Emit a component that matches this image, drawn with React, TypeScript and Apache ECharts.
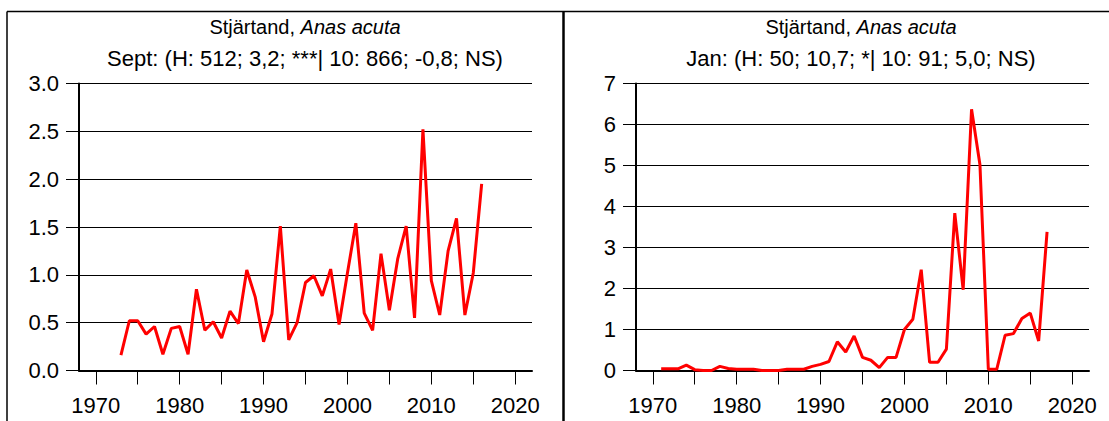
import React, { useEffect, useRef } from "react";
import * as echarts from "echarts";

const SEPT_START_YEAR = 1973;
const septValues = [
  0.16, 0.52, 0.52, 0.38, 0.46, 0.17, 0.44, 0.46, 0.17, 0.85,
  0.42, 0.51, 0.34, 0.62, 0.49, 1.05, 0.77, 0.30, 0.59, 1.51,
  0.32, 0.50, 0.92, 0.99, 0.78, 1.06, 0.48, 1.02, 1.54, 0.60,
  0.42, 1.22, 0.63, 1.17, 1.51, 0.55, 2.52, 0.94, 0.58, 1.25,
  1.59, 0.58, 1.02, 1.95,
];

const JAN_START_YEAR = 1971;
const janValues = [
  0.04, 0.04, 0.04, 0.13, 0.02, 0.0, 0.0, 0.1, 0.05, 0.03,
  0.03, 0.03, 0.0, 0.0, 0.0, 0.03, 0.03, 0.03, 0.1, 0.15,
  0.22, 0.7, 0.45, 0.84, 0.32, 0.25, 0.07, 0.32, 0.32, 1.0,
  1.25, 2.46, 0.2, 0.2, 0.52, 3.84, 1.97, 6.37, 5.02, 0.03,
  0.03, 0.86, 0.9, 1.27, 1.4, 0.72, 3.38,
];

const xTickValues = [1970, 1975, 1980, 1985, 1990, 1995, 2000, 2005, 2010, 2015, 2020];
const xLabelValues = [1970, 1980, 1990, 2000, 2010, 2020];

const titleSpecies = "Stjärtand, ";
const titleLatin = "Anas acuta";
const septSubtitle = "Sept: (H: 512; 3,2; ***| 10: 866; -0,8; NS)";
const janSubtitle = "Jan: (H: 50; 10,7; *| 10: 91; 5,0; NS)";

const FONT = "'Liberation Sans', Arial, sans-serif";

function toPairs(start: number, vals: number[]) {
  return vals.map((v, i) => [start + i, v]);
}

export default function App() {
  const ref = useRef<HTMLDivElement>(null);
  useEffect(() => {
    document.body.style.margin = "0";
    const chart = echarts.init(ref.current!, null, { renderer: "svg" });

    const xAxisBase = (gridIndex: number) => ({
      type: "value",
      gridIndex,
      min: 1968,
      max: 2022,
      axisLine: { show: true, onZero: false, lineStyle: { color: "#000", width: 2 } },
      axisTick: {
        show: true,
        customValues: xTickValues,
        length: 14,
        lineStyle: { color: "#000", width: 1 },
      },
      axisLabel: {
        customValues: xLabelValues,
        margin: 24,
        color: "#000",
        fontSize: 22,
        fontFamily: FONT,
        formatter: (v: number) => String(v),
      },
      splitLine: { show: false },
    });

    const yAxisBase = (gridIndex: number, max: number, interval: number, decimals: number) => ({
      type: "value",
      gridIndex,
      min: 0,
      max,
      interval,
      axisLine: { show: true, lineStyle: { color: "#000", width: 2 } },
      axisTick: { show: true, length: 13, lineStyle: { color: "#000", width: 1 } },
      axisLabel: {
        margin: 20,
        color: "#000",
        fontSize: 22,
        fontFamily: FONT,
        formatter: (v: number) => v.toFixed(decimals),
      },
      splitLine: { show: true, lineStyle: { color: "#000", width: 1 } },
    });

    const titleText = (cx: number, subtitle: string) => [
      {
        type: "text",
        x: cx,
        y: 27,
        style: {
          text: titleSpecies + "{i|" + titleLatin + "}",
          fontSize: 20,
          fontFamily: FONT,
          fill: "#000",
          align: "center",
          verticalAlign: "middle",
          rich: {
            i: { fontStyle: "italic", fontSize: 20, fontFamily: FONT, fill: "#000" },
          },
        },
      },
      {
        type: "text",
        x: cx,
        y: 58,
        style: {
          text: subtitle,
          fontSize: 22,
          fontFamily: FONT,
          fill: "#000",
          align: "center",
          verticalAlign: "middle",
        },
      },
    ];

    chart.setOption({
      animation: false,
      backgroundColor: "#fff",
      grid: [
        { left: 79, right: 577, top: 83.5, bottom: 50.5 },
        { left: 636, right: 20, top: 83.5, bottom: 50.5 },
      ],
      xAxis: [xAxisBase(0), xAxisBase(1)],
      yAxis: [yAxisBase(0, 3, 0.5, 1), yAxisBase(1, 7, 1, 0)],
      series: [
        {
          type: "line",
          xAxisIndex: 0,
          yAxisIndex: 0,
          data: toPairs(SEPT_START_YEAR, septValues),
          showSymbol: false,
          symbol: "none",
          lineStyle: { color: "#ff0000", width: 3 },
        },
        {
          type: "line",
          xAxisIndex: 1,
          yAxisIndex: 1,
          data: toPairs(JAN_START_YEAR, janValues),
          showSymbol: false,
          symbol: "none",
          lineStyle: { color: "#ff0000", width: 3 },
        },
      ],
      graphic: [
        {
          type: "line",
          shape: { x1: 7, y1: 11.5, x2: 1109, y2: 11.5 },
          style: { stroke: "#000", lineWidth: 1.5 },
        },
        {
          type: "line",
          shape: { x1: 7, y1: 11.5, x2: 7, y2: 421 },
          style: { stroke: "#000", lineWidth: 1.5 },
        },
        {
          type: "line",
          shape: { x1: 563.5, y1: 11.5, x2: 563.5, y2: 421 },
          style: { stroke: "#000", lineWidth: 2.5 },
        },
        ...titleText(305, septSubtitle),
        ...titleText(861, janSubtitle),
      ],
    });
    return () => chart.dispose();
  }, []);
  return <div ref={ref} style={{ width: 1109, height: 421 }} />;
}
